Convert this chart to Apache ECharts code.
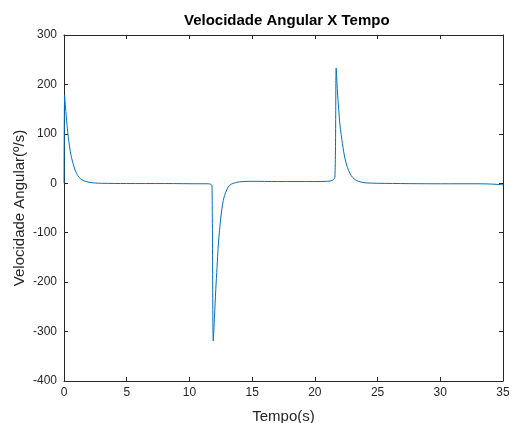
<!DOCTYPE html>
<html>
<head>
<meta charset="utf-8">
<script src="https://cdn.jsdelivr.net/npm/echarts@6/dist/echarts.min.js"></script>
<style>html,body{margin:0;padding:0;background:#fff}#c{width:512px;height:423px}</style>
</head>
<body>
<div id="c"></div>
<script>
var title = 'Velocidade Angular X Tempo';
var xName = 'Tempo(s)';
var yName = 'Velocidade Angular(º/s)';
var xTicks = [0, 5, 10, 15, 20, 25, 30, 35];
var yTicks = [-400, -300, -200, -100, 0, 100, 200, 300];
var tempo = [0, 0.05, 0.1, 0.2, 0.3, 0.4, 0.5, 0.6, 0.8, 1.0, 1.2, 1.5, 2.0, 2.5, 3, 5, 8, 11, 11.5, 11.7, 11.8, 11.9, 12.0, 12.1, 12.2, 12.3, 12.4, 12.5, 12.6, 12.7, 12.8, 13.0, 13.2, 13.5, 14, 15, 17, 20, 21, 21.4, 21.6, 21.7, 21.8, 21.9, 22.0, 22.2, 22.4, 22.6, 22.8, 23.0, 23.3, 23.6, 24, 25, 30, 33, 34, 35];
var velocidade = [0, 178, 160, 130, 103, 82, 65, 52, 33, 20, 12, 6, 2, 0.5, 0, -0.5, -0.5, -1, -1, -2, -5, -319, -270, -215, -170, -125, -95, -70, -50, -35, -25, -12, -4, 0, 3, 4, 3.5, 3.5, 4, 6, 12, 233, 185, 150, 118, 80, 50, 32, 20, 12, 6, 3, 1, 0, -1, -1, -1.5, -3];

var data = tempo.map(function (t, i) { return [t, velocidade[i]]; });
var axisCol = '#262626';
var font = 'Liberation Sans, Arial, sans-serif';

function xAx(pos, labels) {
  return {
    type: 'value', position: pos, min: xTicks[0], max: xTicks[xTicks.length - 1], interval: 5,
    axisLine: { show: true, onZero: false, lineStyle: { color: axisCol, width: 1 } },
    axisTick: { show: true, inside: true, length: 4, lineStyle: { color: axisCol } },
    axisLabel: { show: labels, color: axisCol, fontFamily: font, fontSize: 12, margin: 6 },
    splitLine: { show: false },
    name: labels ? xName : '', nameLocation: 'middle', nameGap: 28,
    nameTextStyle: { color: axisCol, fontFamily: font, fontSize: 15 }
  };
}
function yAx(pos, labels) {
  return {
    type: 'value', position: pos, min: yTicks[0], max: yTicks[yTicks.length - 1], interval: 100,
    axisLine: { show: true, onZero: false, lineStyle: { color: axisCol, width: 1 } },
    axisTick: { show: true, inside: true, length: 4, lineStyle: { color: axisCol } },
    axisLabel: { show: labels, color: axisCol, fontFamily: font, fontSize: 12, margin: 7 },
    splitLine: { show: false },
    name: labels ? yName : '', nameLocation: 'middle', nameGap: 37, nameMoveOverlap: false,
    nameTextStyle: { color: axisCol, fontFamily: font, fontSize: 15 }
  };
}

var chart = echarts.init(document.getElementById('c'), null, { renderer: 'canvas' });
chart.setOption({
  animation: false,
  backgroundColor: '#ffffff',
  title: {
    text: title, left: 179, top: 8,
    textStyle: { fontFamily: font, fontSize: 15, fontWeight: 'bold', color: '#000' }
  },
  grid: { left: 64, right: 9, top: 35, bottom: 42, containLabel: false, outerBoundsMode: 'none' },
  xAxis: [xAx('bottom', true), xAx('top', false)],
  yAxis: [yAx('left', true), yAx('right', false)],
  series: [{
    type: 'line', data: data, xAxisIndex: 0, yAxisIndex: 0,
    showSymbol: false, smooth: 0.3,
    lineStyle: { color: '#0072BD', width: 1 }
  }]
});
</script>
</body>
</html>
